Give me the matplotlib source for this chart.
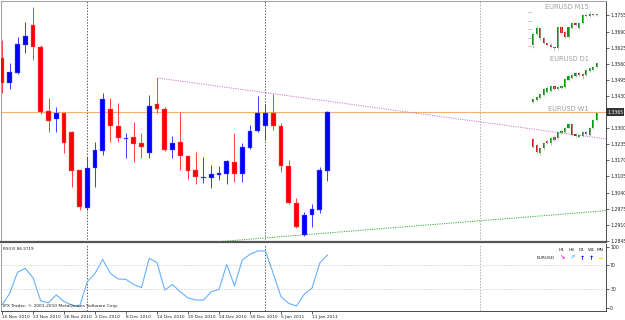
import numpy as np
import matplotlib.pyplot as plt

W, H = 625, 320

# EURUSD daily bars, 16 Nov 2010 .. 13 Jan 2011
opens = [1.3583, 1.3482, 1.3523, 1.3636, 1.3717, 1.3628, 1.3369, 1.3337, 1.3361, 1.3285,
         1.3131, 1.2978, 1.3139, 1.3208, 1.3378, 1.3309, 1.3256, 1.3265, 1.3240, 1.3200,
         1.3398, 1.3378, 1.3212, 1.3244, 1.3188, 1.3131, 1.3099, 1.3099, 1.3111, 1.3115,
         1.3164, 1.3115, 1.3220, 1.3289, 1.3309, 1.3361, 1.3309, 1.3147, 1.2998, 1.2869,
         1.2950, 1.2970, 1.3127]
highs = [1.3656, 1.3563, 1.3668, 1.3729, 1.3789, 1.3636, 1.3422, 1.3386, 1.3365, 1.3289,
         1.3131, 1.3184, 1.3244, 1.3442, 1.3422, 1.3402, 1.3281, 1.3325, 1.3281, 1.3434,
         1.3503, 1.3386, 1.3268, 1.3365, 1.3192, 1.3204, 1.3184, 1.3151, 1.3147, 1.3172,
         1.3281, 1.3240, 1.3313, 1.3430, 1.3398, 1.3438, 1.3321, 1.3172, 1.3018, 1.2962,
         1.2994, 1.3143, 1.3370]
lows = [1.3442, 1.3458, 1.3519, 1.3604, 1.3575, 1.3357, 1.3285, 1.3285, 1.3200, 1.3063,
        1.2970, 1.2970, 1.3063, 1.3192, 1.3244, 1.3244, 1.3180, 1.3164, 1.3180, 1.3180,
        1.3361, 1.3208, 1.3180, 1.3131, 1.3095, 1.3075, 1.3079, 1.3059, 1.3091, 1.3075,
        1.3083, 1.3083, 1.3216, 1.3285, 1.3252, 1.3293, 1.3123, 1.2994, 1.2897, 1.2865,
        1.2901, 1.2958, 1.3087]
closes = [1.3482, 1.3527, 1.3640, 1.3672, 1.3628, 1.3365, 1.3329, 1.3361, 1.3240, 1.3127,
          1.2982, 1.3139, 1.3212, 1.3418, 1.3309, 1.3260, 1.3260, 1.3236, 1.3224, 1.3390,
          1.3378, 1.3212, 1.3240, 1.3188, 1.3127, 1.3103, 1.3103, 1.3115, 1.3119, 1.3168,
          1.3115, 1.3224, 1.3289, 1.3361, 1.3361, 1.3309, 1.3147, 1.2998, 1.2901, 1.2950,
          1.2974, 1.3131, 1.3365]
rsi = [4.4, 23.6, 58, 64.6, 49, 11, 8, 21, 10, 4.4, 1.7, 42.6, 56, 79, 56, 47, 46.5, 38, 33,
       81, 74, 29, 38, 26, 16, 12.6, 12.6, 26, 30, 71, 35.6, 78, 87.5, 93, 93, 56, 18, 7,
       2.8, 22, 32, 73, 86.57]

date_ticks = [0, 4, 8, 12, 16, 20, 24, 28, 32, 36, 40]
date_labels = ['16 Nov 2010', '22 Nov 2010', '26 Nov 2010', '2 Dec 2010', '8 Dec 2010',
               '14 Dec 2010', '20 Dec 2010', '24 Dec 2010', '30 Dec 2010', '5 Jan 2011',
               '11 Jan 2011']
price_levels = [1.3755, 1.3690, 1.3625, 1.3560, 1.3495, 1.3430, 1.3365, 1.3300, 1.3235,
                1.3170, 1.3105, 1.3040, 1.2975, 1.2910, 1.2845]
last_price = 1.3365
separators = [11, 34, 61.7]
res_bars, res_prices = [20, 78], [1.3503, 1.3256]
sup_bars, sup_prices = [28, 78], [1.2842, 1.2967]

# small multi-timeframe charts (open, close, high, low)
m15_o = [15, 26, 32, 22, 17, 15, 13, 12, 33, 28, 23, 32, 37, 32, 37, 45, 44, 45.5, 45]
m15_c = [26, 32, 22, 17, 15, 13, 12, 33, 27, 23, 33, 37, 35, 37, 45, 44, 46, 45, 46]
m15_h = [27, 35, 33, 23, 18, 17, 14, 34, 34, 29, 34, 38, 38, 38, 46, 46, 49, 47, 47]
m15_l = [12, 25, 20, 16, 14, 12, 9, 11, 26, 22, 22, 31, 34, 31, 36, 43, 43, 44, 44]
d1_o = [8, 10, 12, 15, 18, 19, 24, 21, 22, 23, 30, 32, 34, 37, 36, 35, 39, 40, 43]
d1_c = [11, 13, 16, 21, 22, 24, 21, 23, 24, 31, 34, 35, 37, 35, 34, 40, 42, 43, 47]
d1_h = [12, 14, 17, 22, 24, 25, 25, 24, 25, 32, 35, 36, 38, 38, 37, 41, 43, 44, 48]
d1_l = [7, 9, 11, 14, 17, 18, 20, 20, 21, 22, 29, 31, 33, 34, 31, 34, 38, 39, 42]
w1_o = [21, 15, 7, 12, 19, 17, 20, 22, 27, 28, 32, 36, 26, 23, 24, 28, 25, 32, 40]
w1_c = [13, 8, 12, 17, 17, 22, 23, 28, 29, 32, 36, 25, 24, 25, 28, 26, 32, 40, 47]
w1_h = [22, 16, 13, 18, 20, 23, 25, 29, 31, 33, 37, 37, 27, 26, 29, 29, 33, 41, 48]
w1_l = [12, 6, 5, 10, 16, 15, 19, 21, 26, 27, 31, 24, 23, 22, 23, 25, 24, 31, 39]

tf_names = ['H1', 'H4', 'D1', 'W1', 'MN']
tf_arrows = ['↘', '↗', '↑', '↑', '→']
tf_colors = ['#ff00ff', '#33bbff', '#0000ff', '#0000ff', '#ffcc00']


def frac(left, top, w, h):
    return [left / W, 1 - (top + h) / H, w / W, h / H]


fig = plt.figure(figsize=(W / 100, H / 100), dpi=100)
fig.patch.set_facecolor('white')
ax = fig.add_axes(frac(1, 1, 605, 241))
rx = fig.add_axes(frac(1, 244, 605, 67), sharex=ax)

x = np.arange(len(opens))
o = np.array(opens)
c = np.array(closes)
up = c >= o
bw = 0.62

# candles
ax.vlines(x[up], np.array(lows)[up], np.array(highs)[up], color='#3a3aff', lw=0.7, zorder=3)
ax.vlines(x[~up], np.array(lows)[~up], np.array(highs)[~up], color='#ff4040', lw=0.7, zorder=3)
body_h = np.maximum(np.abs(c - o), 0.00005)
ax.bar(x[up], body_h[up], bottom=np.minimum(o, c)[up], width=bw, color='#0000ff',
       edgecolor='#7070ff', lw=0.3, zorder=4)
ax.bar(x[~up], body_h[~up], bottom=np.minimum(o, c)[~up], width=bw, color='#ff0000',
       edgecolor='#ff7070', lw=0.3, zorder=4)

ax.set_xlim(-0.13, 77.94)
ax.set_ylim(1.28405, 1.38135)

# current price line
ax.axhline(last_price, color='#f5b070', lw=0.8, zorder=2)

# trend lines
slope = (res_prices[1] - res_prices[0]) / (res_bars[1] - res_bars[0])
ax.plot([res_bars[0], 80], [res_prices[0], res_prices[0] + slope * (80 - res_bars[0])],
        color='#cc77cc', lw=0.7, ls=(0, (1.2, 1.2)), zorder=2)
slope = (sup_prices[1] - sup_prices[0]) / (sup_bars[1] - sup_bars[0])
ax.plot([0, 80], [sup_prices[0] - slope * sup_bars[0], sup_prices[0] + slope * (80 - sup_bars[0])],
        color='#33aa33', lw=0.7, ls=(0, (1.2, 1.2)), zorder=2)

for i, s in enumerate(separators):
    col = '#606060' if i < 2 else '#b0b0b0'
    for a in (ax, rx):
        a.axvline(s, color=col, lw=0.7, ls=(0, (1.5, 1.5)), zorder=1)

# price axis
ax.yaxis.tick_right()
ax.set_yticks(price_levels)
ax.set_yticklabels(['' if abs(p - last_price) < 1e-6 else f'{p:.4f}' for p in price_levels])
ax.tick_params(axis='y', labelsize=3.3, length=2, width=0.5, pad=1, colors='#222222')
ax.tick_params(axis='x', bottom=False, labelbottom=False)
ax.text(1.002, last_price, f'{last_price:.4f}', transform=ax.get_yaxis_transform(),
        fontsize=3.3, color='white', va='center', ha='left',
        bbox=dict(fc='#333333', ec='none', pad=0.8))

for side, a in (('left', ax), ('left', rx)):
    a.spines['left'].set_color('#909090')
    a.spines['left'].set_linewidth(0.6)
ax.spines['top'].set_color('#909090')
ax.spines['top'].set_linewidth(0.6)
ax.spines['right'].set_color('#303030')
ax.spines['right'].set_linewidth(0.6)
ax.spines['bottom'].set_color('#555555')
ax.spines['bottom'].set_linewidth(1.6)

# RSI panel
rx.plot(x, rsi, color='#66b0ff', lw=0.8)
rx.axhline(70, color='#b8b8b8', lw=0.6, ls=(0, (1, 2)))
rx.axhline(30, color='#b8b8b8', lw=0.6, ls=(0, (1, 2)))
rx.set_ylim(-5.4, 104.4)
rx.yaxis.tick_right()
rx.set_yticks([100, 70, 30, 0])
rx.tick_params(axis='y', labelsize=3.3, length=2, width=0.5, pad=1, colors='#222222')
rx.set_xticks(date_ticks)
rx.set_xticklabels(date_labels)
rx.tick_params(axis='x', labelsize=3.2, length=2, width=0.5, pad=0.8, colors='#222222')
for lbl in rx.get_xticklabels():
    lbl.set_ha('left')
rx.spines['top'].set_visible(False)
rx.spines['right'].set_color('#303030')
rx.spines['right'].set_linewidth(0.6)
rx.spines['bottom'].set_color('#303030')
rx.spines['bottom'].set_linewidth(0.6)

fig.text(3 / W, 1 - 249 / H, 'RSI(3) 86.5719', fontsize=3, va='center', color='#222222')
fig.text(3 / W, 1 - 306 / H, 'IPX Trader, © 2001-2010 MetaQuotes Software Corp.',
         fontsize=3.2, va='center', color='#222222')

# timeframe trend block
tf_x = [562, 572, 582, 591, 600]
for name, arr, col, px in zip(tf_names, tf_arrows, tf_colors, tf_x):
    fig.text(px / W, 1 - 250 / H, name, fontsize=3.2, ha='center', va='center', color='#222222')
    fig.text(px / W, 1 - 258 / H, arr, fontsize=4.5, ha='center', va='center', color=col,
             fontweight='bold')
fig.text(546 / W, 1 - 258 / H, 'EURUSD', fontsize=3.2, ha='center', va='center', color='#222222')


def mini(rect, mo, mc, mh, ml, ylim, title, title_pos, ticks=None):
    m = fig.add_axes(rect)
    m.set_facecolor('none')
    mo, mc = np.array(mo, float), np.array(mc, float)
    idx = np.arange(len(mo))
    green = mc >= mo
    m.vlines(idx, ml, mh, color='#a8a8a8', lw=0.5)
    m.bar(idx, np.maximum(np.abs(mc - mo), 0.6), bottom=np.minimum(mo, mc), width=0.65,
          color=np.where(green, '#0a9a0a', '#c81e1e'), lw=0)
    m.set_xlim(-0.6, len(mo) - 0.4)
    m.set_ylim(*ylim)
    for sp in m.spines.values():
        sp.set_visible(False)
    m.set_xticks([])
    if ticks:
        m.set_yticks(ticks)
        m.set_yticklabels([])
        m.tick_params(axis='y', length=2, width=0.5, colors='#a0a0a0')
    else:
        m.set_yticks([])
    fig.text(title_pos[0] / W, 1 - title_pos[1] / H, title, fontsize=4.8, color='#a0a0a0',
             ha='center', va='center')


mini(frac(531, 5, 68, 50), m15_o, m15_c, m15_h, m15_l, (5, 55), 'EURUSD M15', (567, 7),
     ticks=[48, 39, 31, 22, 14])
mini(frac(531, 58, 68, 48), d1_o, d1_c, d1_h, d1_l, (4, 52), 'EURUSD D1', (569, 59))
mini(frac(531, 108, 68, 50), w1_o, w1_c, w1_h, w1_l, (2, 52), 'EURUSD W1', (568, 109))

fig.savefig('out.png', dpi=100)
